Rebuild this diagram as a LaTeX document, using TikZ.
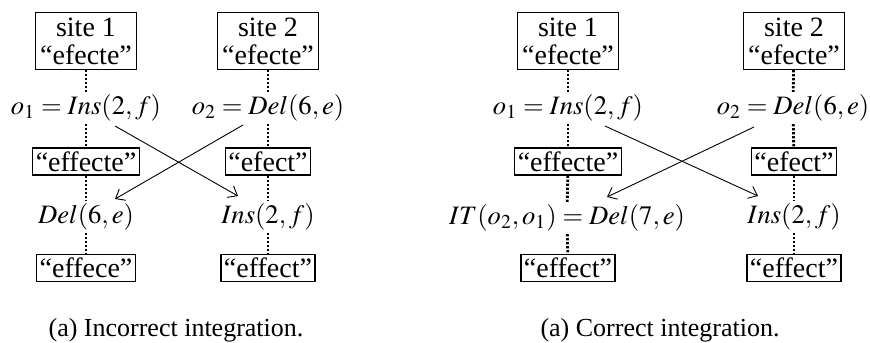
\documentclass[tikz,border=0pt]{standalone}
\usepackage{mathptmx}
\usepackage{fontspec}
\setmainfont{Liberation Serif}
\usetikzlibrary{arrows.meta}
\begin{document}
\begin{tikzpicture}[x=0.5pt,y=-0.5pt,
  every node/.style={font=\fontsize{14}{14}\selectfont},
  sbox/.style={draw,line width=0.6pt,fill=white,inner xsep=1.5pt,inner ysep=0pt,minimum height=13.5pt,
     append after command={[draw,line width=0.85pt,line cap=butt]
       ([shift={(3,1.6)}]\tikzlastnode.south west) -- ([shift={(1.6,1.6)}]\tikzlastnode.south east)
       -- ([shift={(1.6,3)}]\tikzlastnode.north east)}},
  sitebox/.style={sbox,align=center,minimum height=28.5pt,inner xsep=2.2pt},
  lab/.style={inner sep=1.2pt,font=\fontsize{13.3}{14}\selectfont},
  dotline/.style={line width=1.4pt,dash pattern=on 1.1pt off 0.9pt},
  arr/.style={line width=0.45pt,-{Straight Barb[length=4pt,width=6.5pt]}},
  captext/.style={font=\fontsize{13}{13}\selectfont}]
\useasboundingbox (0,0) rectangle (870,342);
% ---------- left diagram ----------
\node[sitebox] (s1L) at (86,41) {site 1\\“efecte”};
\node[sitebox] (s2L) at (268,41) {site 2\\“efecte”};
\node[lab] (o1L) at (86,108) {$o_1 = Ins(2,f)$};
\node[lab] (o2L) at (268,108) {$o_2 = Del(6,e)$};
\node[sbox] (b1L) at (86,161.5) {“effecte”};
\node[sbox] (b2L) at (268,161.5) {“efect”};
\node[lab] (d1L) at (86,217) {$Del(6,e)$};
\node[lab] (d2L) at (268,217) {$Ins(2,f)$};
\node[sbox] (c1L) at (86,268) {“effece”};
\node[sbox] (c2L) at (268,268) {“effect”};
\draw[dotline] (s1L) -- (o1L);
\draw[dotline] (o1L) -- (b1L);
\draw[dotline] (b1L) -- (d1L);
\draw[dotline] (d1L) -- (c1L);
\draw[dotline] (s2L) -- (o2L);
\draw[dotline] (o2L) -- (b2L);
\draw[dotline] (b2L) -- (d2L);
\draw[dotline] (d2L) -- (c2L);
\draw[arr] ([shift={(29,18)}]o1L.center) -- ([shift={(-30,-21)}]d2L.center);
\draw[arr] ([shift={(-25,17)}]o2L.center) -- ([shift={(29,-18)}]d1L.center);
\node[captext] (capL) at (176,330) {(a) Incorrect integration.};
% ---------- right diagram ----------
\node[sitebox] (s1R) at (568,41) {site 1\\“efecte”};
\node[sitebox] (s2R) at (794,41) {site 2\\“efecte”};
\node[lab] (o1R) at (568,108) {$o_1 = Ins(2,f)$};
\node[lab] (o2R) at (793,108) {$o_2 = Del(6,e)$};
\node[sbox] (b1R) at (568,161.5) {“effecte”};
\node[sbox] (b2R) at (794,161.5) {“efect”};
\node[lab] (d1R) at (567,218) {$IT(o_2,o_1) = Del(7,e)$};
\node[lab] (d2R) at (794,217) {$Ins(2,f)$};
\node[sbox] (c1R) at (568,268) {“effect”};
\node[sbox] (c2R) at (794,268) {“effect”};
\draw[dotline] (s1R) -- (o1R);
\draw[dotline] (o1R) -- (b1R);
\draw[dotline] (b1R) -- (d1R);
\draw[dotline] (d1R) -- (c1R);
\draw[dotline] (s2R) -- (o2R);
\draw[dotline] (o2R) -- (b2R);
\draw[dotline] (b2R) -- (d2R);
\draw[dotline] (d2R) -- (c2R);
\draw[arr] ([shift={(37,18)}]o1R.center) -- ([shift={(-36,-21)}]d2R.center);
\draw[arr] ([shift={(-39,19)}]o2R.center) -- ([shift={(40,-21)}]d1R.center);
\node[captext] (capR) at (660,330) {(a) Correct integration.};
\end{tikzpicture}
\end{document}
